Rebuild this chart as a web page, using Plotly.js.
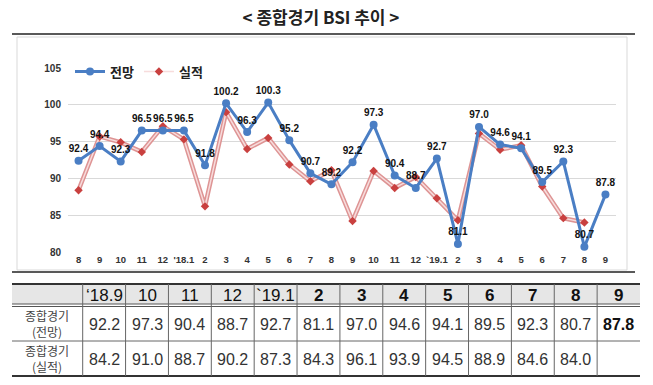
<!DOCTYPE html>
<html><head><meta charset="utf-8">
<script src="https://cdn.plot.ly/plotly-3.0.1.min.js"></script>
<style>html,body{margin:0;padding:0;background:#fff}</style>
</head><body><div id="chart" style="width:653px;height:385px"></div>
<script>
const periods = ['2017.08','2017.09','2017.10','2017.11','2017.12','2018.01','2018.02','2018.03','2018.04','2018.05','2018.06','2018.07','2018.08','2018.09','2018.10','2018.11','2018.12','2019.01','2019.02','2019.03','2019.04','2019.05','2019.06','2019.07','2019.08','2019.09'];
const tickLabels = ['8','9','10','11','12',"'18.1",'2','3','4','5','6','7','8','9','10','11','12','`19.1','2','3','4','5','6','7','8','9'];
const forecast = [92.4,94.4,92.3,96.5,96.5,96.5,91.8,100.2,96.3,100.3,95.2,90.7,89.2,92.2,97.3,90.4,88.7,92.7,81.1,97.0,94.6,94.1,89.5,92.3,80.7,87.8];
const actual = [88.4,95.7,94.9,93.6,97.1,95.3,86.2,99.0,94.0,95.5,91.9,89.6,91.1,84.2,91.0,88.7,90.2,87.3,84.3,96.1,93.9,94.5,88.9,84.6,84.0,null];
const tableHeaders = ["\u201818.9",'10','11','12','`19.1','2','3','4','5','6','7','8','9'];
const rowLabels = ['종합경기<br>(전망)','종합경기<br>(실적)'];
const seriesNames = ['전망','실적'];

// layout helpers (pixel -> paper)
const W = 653, H = 385, ML = 68, MR = 37, MT = 68, MB = 133;
const PW = W - ML - MR, PH = H - MT - MB;
const px = x => (x - ML) / PW;
const py = y => (H - MB - y) / PH;

const blue = '#4a7ec4';
const numFont = 'Liberation Sans, Arial, sans-serif';
const traces = [
  {x: periods, y: actual, type: 'scatter', mode: 'lines', showlegend: false, hoverinfo: 'skip',
   line: {color: '#de9494', width: 4.5}},
  {x: periods, y: actual, type: 'scatter', mode: 'lines+markers', name: seriesNames[1], legendrank: 2,
   line: {color: '#f7dcdc', width: 1.5},
   marker: {symbol: 'diamond', size: 6.5, color: '#c9403f'}},
  {x: periods, y: forecast, type: 'scatter', mode: 'lines+markers+text', name: seriesNames[0], legendrank: 1,
   line: {color: blue, width: 3},
   marker: {symbol: 'circle', size: 8, color: blue},
   text: forecast.map(v => v.toFixed(1)), textposition: 'top center',
   textfont: {family: numFont, size: 10, color: '#111', weight: 'bold'}}
];

const shapes = [];
const annotations = [];
// frame & rules
shapes.push({type:'rect', xref:'paper', yref:'paper', x0:px(17), x1:px(627), y0:py(37), y1:py(270), line:{color:'#d9d9d9', width:1}, layer:'below'});
shapes.push({type:'line', xref:'paper', yref:'paper', x0:px(12), x1:px(635), y0:py(34), y1:py(34), line:{color:'#222', width:1.5}});
shapes.push({type:'line', xref:'paper', yref:'paper', x0:px(12), x1:px(635), y0:py(272), y1:py(272), line:{color:'#222', width:1.5}});

// table
const tL = 12, tR = 640, c0 = 82.7;
const colW = (tR - c0) / tableHeaders.length;
const yTop = 284, yHead = 304, yHead2 = 306.5, yR1 = 341, yBot = 376;
shapes.push({type:'rect', xref:'paper', yref:'paper', x0:px(tL), x1:px(tR), y0:py(yTop), y1:py(yHead), fillcolor:'#e6e6e6', line:{width:0}, layer:'below'});
shapes.push({type:'line', xref:'paper', yref:'paper', x0:px(tL), x1:px(tR), y0:py(yTop), y1:py(yTop), line:{color:'#333', width:2}});
shapes.push({type:'line', xref:'paper', yref:'paper', x0:px(tL), x1:px(tR), y0:py(yHead), y1:py(yHead), line:{color:'#555', width:1}});
shapes.push({type:'line', xref:'paper', yref:'paper', x0:px(tL), x1:px(tR), y0:py(yHead2), y1:py(yHead2), line:{color:'#555', width:1}});
shapes.push({type:'line', xref:'paper', yref:'paper', x0:px(tL), x1:px(tR), y0:py(yR1), y1:py(yR1), line:{color:'#666', width:1}});
shapes.push({type:'line', xref:'paper', yref:'paper', x0:px(tL), x1:px(tR), y0:py(yBot), y1:py(yBot), line:{color:'#333', width:2}});
for (let i = 0; i < tableHeaders.length; i++) {
  const xb = c0 + i * colW;
  shapes.push({type:'line', xref:'paper', yref:'paper', x0:px(xb), x1:px(xb), y0:py(yTop), y1:py(yBot), line:{color:'#666', width:1}});
}
const offset = forecast.length - tableHeaders.length;
tableHeaders.forEach((h, i) => {
  const cx = c0 + (i + 0.5) * colW;
  annotations.push({xref:'paper', yref:'paper', x:px(cx), y:py(295), text:h, showarrow:false, xanchor:'center', yanchor:'middle',
    font:{family:numFont, size:17, color:'#111', weight: i >= 5 ? 'bold' : 'normal'}});
  const f = forecast[offset + i];
  const last = i === tableHeaders.length - 1;
  annotations.push({xref:'paper', yref:'paper', x:px(cx), y:py(324), text:f.toFixed(1), showarrow:false, xanchor:'center', yanchor:'middle',
    font:{family:numFont, size:16, color: last ? '#111' : '#333', weight: last ? 'bold' : 'normal'}});
  const a = actual[offset + i];
  if (a !== null) annotations.push({xref:'paper', yref:'paper', x:px(cx), y:py(359), text:a.toFixed(1), showarrow:false, xanchor:'center', yanchor:'middle',
    font:{family:numFont, size:16, color:'#333'}});
});
rowLabels.forEach((t, r) => {
  annotations.push({xref:'paper', yref:'paper', x:px((tL + c0) / 2), y:py(r === 0 ? 323 : 358.5), text:t, showarrow:false,
    xanchor:'center', yanchor:'middle', borderpad:0, borderwidth:0,
    font:{family:'Noto Sans CJK KR, sans-serif', size:12, color:'#444'}});
});

const layout = {
  width: W, height: H, autosize: false,
  margin: {l: ML, r: MR, t: MT, b: MB, pad: 0},
  paper_bgcolor: '#fff', plot_bgcolor: '#fff',
  font: {family: 'Liberation Sans, Noto Sans CJK KR, sans-serif', color: '#333'},
  title: {text: '< 종합경기 BSI 추이 >', x: 321 / W, xanchor: 'center', xref: 'container', y: 1 - 18 / H, yanchor: 'middle', yref: 'container',
    font: {family: 'Noto Sans CJK KR, sans-serif', size: 17, color: '#222', weight: 'bold'}},
  xaxis: {type: 'category', range: [-0.5, 25.5], tickvals: periods, ticktext: tickLabels, showgrid: false, zeroline: false,
    showline: false, ticks: '', tickangle: 0, fixedrange: true,
    tickfont: {family: numFont, size: 9.5, color: '#333', weight: 'bold'}},
  yaxis: {range: [80, 105], dtick: 5, tick0: 80, showgrid: true, gridcolor: '#d9d9d9', gridwidth: 1, zeroline: false, showline: false,
    ticks: '', fixedrange: true, ticklabelstandoff: 6,
    tickfont: {family: numFont, size: 10, color: '#333', weight: 'bold'}},
  showlegend: true,
  legend: {orientation: 'h', x: px(70), y: py(56.5), xanchor: 'left', yanchor: 'top', bgcolor: '#fff',
    font: {family: 'Noto Sans CJK KR, sans-serif', size: 13, color: '#222', weight: 'bold'}, itemwidth: 30, traceorder: 'normal'},
  shapes: shapes,
  annotations: annotations
};
Plotly.newPlot('chart', traces, layout, {displayModeBar: false, staticPlot: true});
</script></body></html>
